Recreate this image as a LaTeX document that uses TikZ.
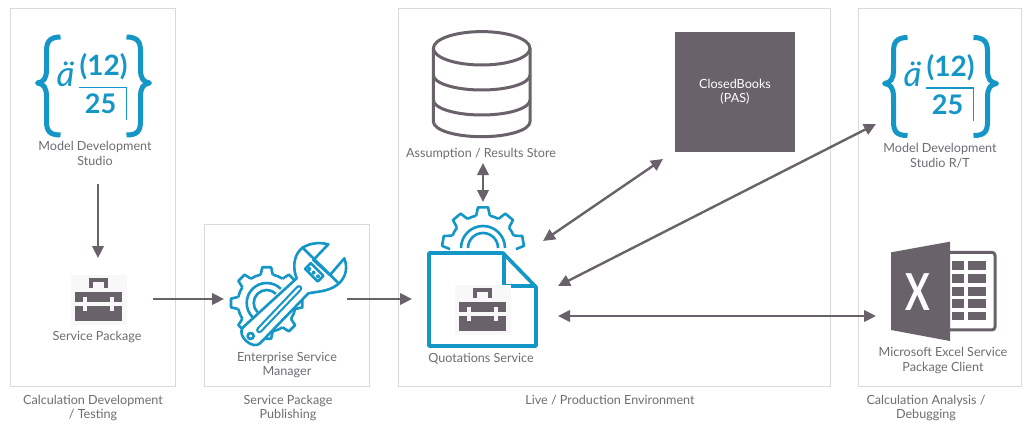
\documentclass[tikz,border=0pt]{standalone}
\usepackage{fontspec}
\setmainfont{Lato}
\usetikzlibrary{arrows.meta}
\definecolor{slate}{HTML}{6A626B}
\definecolor{caption}{HTML}{716B74}
\definecolor{azure}{HTML}{1496C6}
\definecolor{panelline}{HTML}{DADADA}
\definecolor{pkgbg}{HTML}{F8F8F8}
\tikzset{
    panel/.style={draw=panelline, line width=1pt, fill=white},
    label/.style={text=caption, align=center, font=\fontsize{12.6}{14.5}\selectfont},
    spot/.style={inner sep=0pt, outer sep=0pt},
    flow/.style={draw=slate, line width=2.4pt, -{Triangle[length=12pt,width=11.5pt]}},
    twoway/.style={draw=slate, line width=2.4pt, {Triangle[length=12pt,width=11.5pt]}-{Triangle[length=12pt,width=11.5pt]}},
    blueline/.style={draw=azure, line width=2.6pt, line join=round},
    toolbox/.pic={
        \fill[pkgbg] (-27.5,-17) rectangle (28.5,33);
        \draw[slate, line width=3.5pt] (-7.5,-4)--(-7.5,-12)--(7.5,-12)--(7.5,-4);
        \fill[slate] (-23.5,0) rectangle (23.5,10);
        \fill[slate] (-23.5,14) rectangle (23.5,29);
        \foreach \x in {-13.5,13.5}
        {
            \fill[pkgbg] (\x-2,5) rectangle (\x+2,19);
        }
    },
    formula/.pic={
        \draw[azure, line width=5pt, line join=round] (-33,-48) .. controls (-44,-48) and (-47,-43) .. (-47,-34)--(-47,-16) .. controls (-47,-6) and (-50,-3) .. (-56,-2) .. controls (-50,-1) and (-47,2) .. (-47,12)--(-47,36) .. controls (-47,46) and (-44,50) .. (-33,50);
        \draw[azure, line width=5pt, line join=round] (33,-48) .. controls (44,-48) and (47,-43) .. (47,-34)--(47,-16) .. controls (47,-6) and (50,-3) .. (56,-2) .. controls (50,-1) and (47,2) .. (47,12)--(47,36) .. controls (47,46) and (44,50) .. (33,50);
        \draw[azure, line width=1.4pt] (-15,2.5)--(33,2.5)--(33,35);
        \node[spot, text=azure, font=\fontsize{35}{35}\selectfont\itshape] (-a) at (-28,-11) {ä};
        \node[spot, text=azure, font=\fontsize{28}{28}\selectfont\bfseries] (-top) at (10,-18) {(12)};
        \node[spot, text=azure, font=\fontsize{27}{27}\selectfont\bfseries] (-bot) at (7,19) {25};
    },
    cogteeth/.pic={
        \foreach \a in {10,50,90,130,170}
        {
            \draw[blueline, y=1pt] (\a-12:33)--(\a-7:41)--(\a+7:41)--(\a+12:33);
        }
        \foreach \a in {30,70,110,150}
        {
            \draw[blueline, y=1pt] (\a-8:33) arc[start angle=\a-8, end angle=\a+8, radius=33];
        }
        \draw[blueline, y=1pt] (22,0) arc[start angle=0, end angle=180, radius=22];
        \draw[blueline, y=1pt] (15,0) arc[start angle=0, end angle=180, radius=15];
    }
}
\begin{document}
\begin{tikzpicture}[x=1pt, y=-1pt]
\useasboundingbox (0,0) rectangle (1024,423);

% panels
\draw[panel] (10,8) rectangle (175,386);
\draw[panel] (204,224) rectangle (369,386);
\draw[panel] (398,8) rectangle (830,386);
\draw[panel] (858,8) rectangle (1021,386);

% spots the arrows run between
\node[spot, minimum width=110pt, minimum height=178pt] (mds) at (98,95) {};
\node[spot, minimum width=110pt, minimum height=82pt] (pkg) at (98,299) {};
\node[spot, minimum width=123pt, minimum height=82pt] (mgr) at (285.5,299) {};
\node[spot, minimum width=146pt, minimum height=194pt] (quot) at (485,299) {};
\node[spot, minimum width=100pt, minimum height=156pt] (store) at (483,85) {};
\coordinate (quotA) at (543,241);
\coordinate (booksIn) at (663,159);
\coordinate (quotB) at (558,286);
\coordinate (mdsrtIn) at (876,124);
\coordinate (quotC) at (558,316);
\coordinate (excelIn) at (876,316);

% model studio icons
\pic (mdsIcon) at (93.5,85) {formula};
\pic (mdsrtIcon) at (940.5,85.5) {formula};
\node[label] (mdsLabel) at (95,153.5) {Model Development\\Studio};
\node[label] (mdsrtLabel) at (940,155.5) {Model Development\\Studio R/T};

% service package
\pic (pkgIcon) at (98.5,292) {toolbox};
\node[label] (pkgLabel) at (97,337.5) {Service Package};

% enterprise service manager
\begin{scope}[shift={(266.7,303)}]
\foreach \a in {0,45,...,315}
{
    \draw[blueline, y=1pt] (\a-12:29)--(\a-7:36)--(\a+7:36)--(\a+12:29);
    \draw[blueline, y=1pt] (\a+12:29) arc[start angle=\a+12, end angle=\a+33, radius=29];
}
\draw[blueline, y=1pt] (45:20) arc[start angle=45, end angle=225, radius=20];
\draw[blueline, y=1pt] (45:13) arc[start angle=45, end angle=225, radius=13];
\end{scope}
\begin{scope}[shift={(225,235)}, x=.3333pt, y=-.3333pt]
\filldraw[blueline, fill=white] (53,278)--(215,130) .. controls (205,105) and (203,70) .. (225,45) .. controls (245,25) and (280,20) .. (310,28)--(265,75)--(315,120)--(358,70) .. controls (372,105) and (358,140) .. (325,157) .. controls (300,170) and (275,170) .. (250,175)--(105,325) .. controls (85,345) and (35,305) .. (53,278)--cycle;
\draw[blueline] (230,35)--(340,144);
\filldraw[blueline, fill=white] (240.5,101.5)--(257.5,84.5)--(295.5,122.5)--(278.5,139.5)--cycle;
\foreach \x/\y in {253/102,266/113,279/124}
{
    \fill[azure] (\x,\y) circle[radius=2pt];
}
\draw[azure, line width=6.5pt, line cap=round] (103,285)--(222,160);
\draw[white, line width=2.2pt, line cap=round] (103,285)--(222,160);
\draw[blueline] (77,303) circle[radius=9];
\end{scope}
\node[label] (mgrLabel) at (287,365) {Enterprise Service\\Manager};

% quotations service
\pic (quotCog) at (483,248) {cogteeth};
\filldraw[azure, line width=3.6pt, fill=white, line join=bevel] (429,253)--(503,253)--(536,287)--(536,346)--(429,346)--cycle;
\draw[azure, line width=3.6pt] (504,253)--(504,286)--(536,286);
\pic (quotBox) at (482.5,302) {toolbox};
\node[label] (quotLabel) at (481,358.5) {Quotations Service};

% results store
\draw[slate, line width=3pt] (481.7,48.3) ellipse[x radius=48.3, y radius=16.7];
\draw[slate, line width=3pt] (433.4,48.3)--(433.4,121.7) arc[start angle=180, end angle=0, x radius=48.3, y radius=15]--(530,48.3);
\draw[slate, line width=3pt] (433.4,75) arc[start angle=180, end angle=0, x radius=48.3, y radius=15];
\draw[slate, line width=3pt] (433.4,100) arc[start angle=180, end angle=0, x radius=48.3, y radius=15];
\node[label] (storeLabel) at (481,153.5) {Assumption / Results Store};

% closed books
\node[spot, fill=slate, text=white, align=center, minimum size=120pt, font=\fontsize{12.6}{14.5}\selectfont] (books) at (735,92) {ClosedBooks\\(PAS)};

% excel
\begin{scope}[shift={(885,235)}, x=.3333pt, y=-.3333pt]
\draw[slate, line width=3pt, rounded corners=3pt] (195,52)--(330,52)--(330,285)--(195,285);
\foreach \y/\h in {78/27,116/27,155/28,193/27,230/25}
{
    \fill[slate] (200,\y) rectangle (238,\y+\h);
    \fill[slate] (250,\y) rectangle (302,\y+\h);
}
\fill[slate] (18,52)--(195,20)--(195,318)--(18,285)--cycle;
\node[spot, text=white, font=\fontsize{51}{51}\selectfont\bfseries] (excelX) at (98,170) {\scalebox{.72}[1]{X}};
\end{scope}
\node[label] (excelLabel) at (943,360.5) {Microsoft Excel Service\\Package Client};

% arrows
\draw[flow] (mds)--(pkg);
\draw[flow] (pkg.east)--(mgr.west);
\draw[flow] (mgr.east)--(quot.west);
\draw[twoway] (store)--(store |- quot.north);
\draw[twoway] (quotA)--(booksIn);
\draw[twoway] (quotB)--(mdsrtIn);
\draw[twoway] (quotC)--(excelIn);

% captions
\node[label] (devCaption) at (93,408) {Calculation Development\\/ Testing};
\node[label] (pubCaption) at (288,408) {Service Package\\Publishing};
\node[label] (liveCaption) at (610,400.5) {Live / Production Environment};
\node[label] (debugCaption) at (926,408) {Calculation Analysis /\\Debugging};
\end{tikzpicture}
\end{document}
